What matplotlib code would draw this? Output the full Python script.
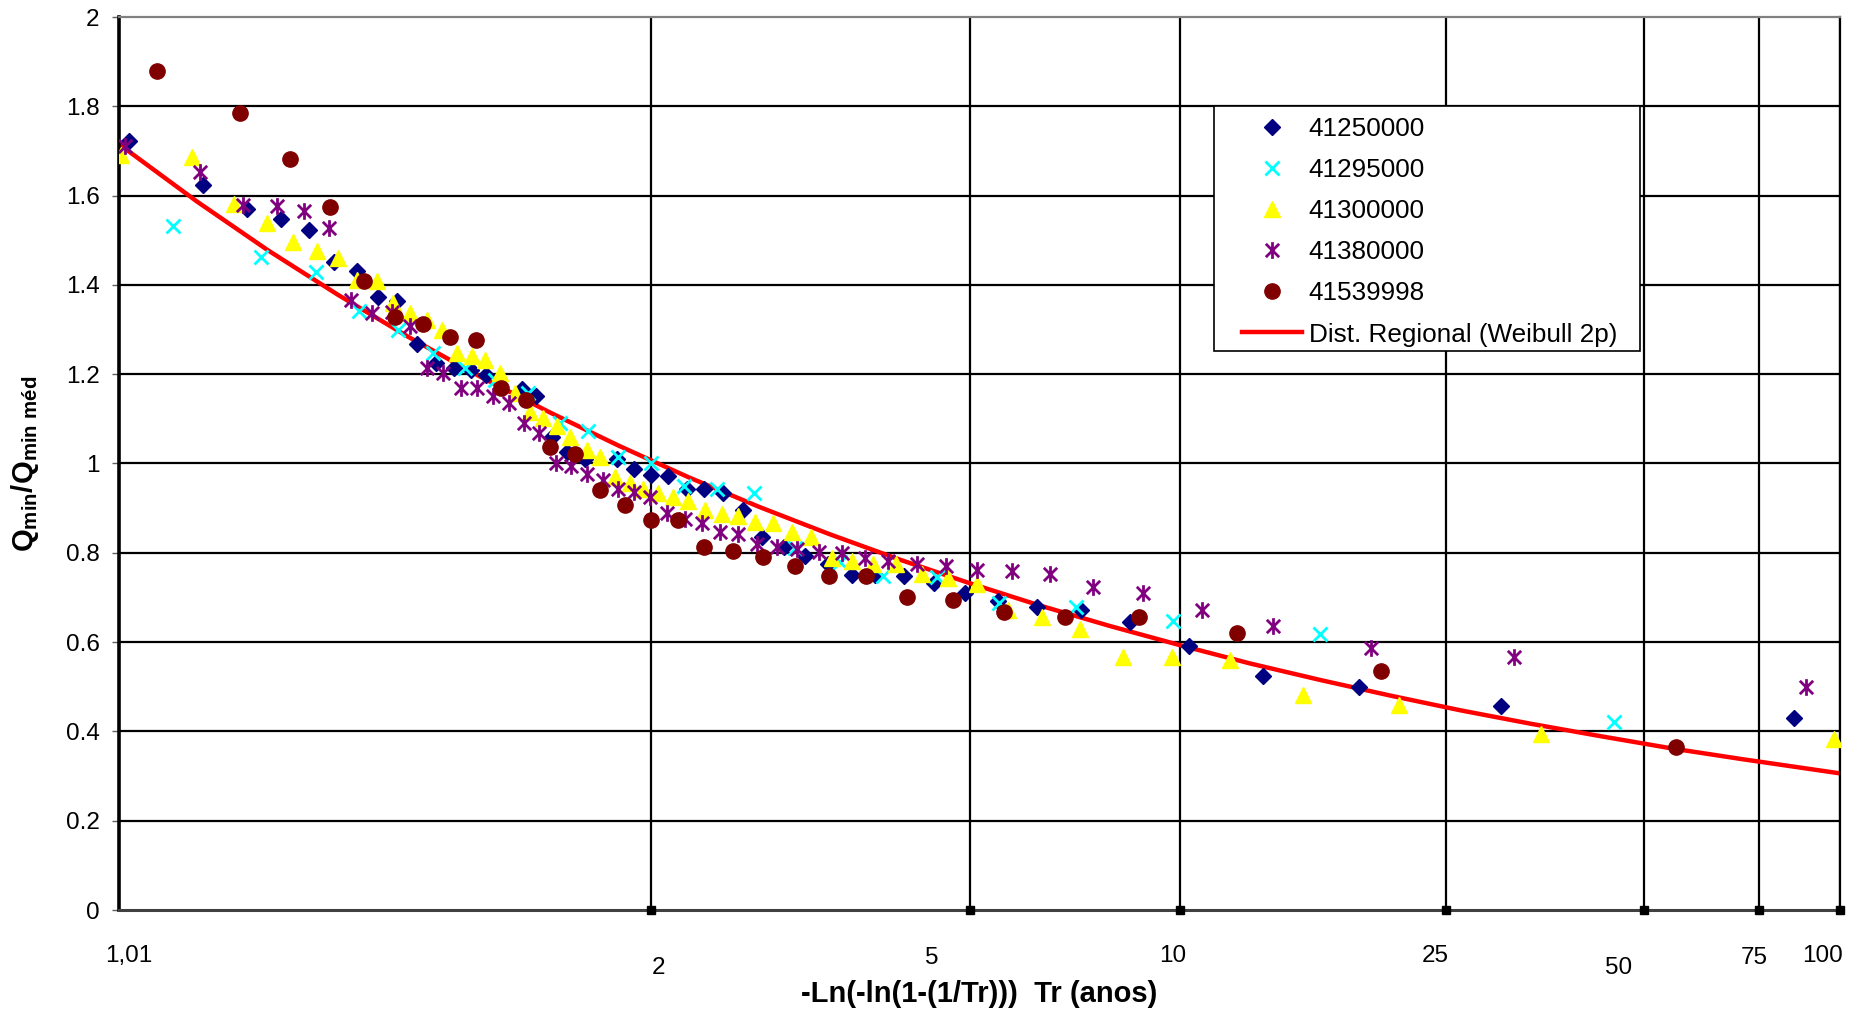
import numpy as np
import matplotlib
matplotlib.use('Agg')
import matplotlib.pyplot as plt
from matplotlib.patches import Rectangle
from matplotlib.path import Path

plt.rcParams['font.family'] = ['Liberation Sans', 'DejaVu Sans']
plt.rcParams['mathtext.fontset'] = 'custom'
plt.rcParams['mathtext.rm'] = 'Liberation Sans'
plt.rcParams['mathtext.bf'] = 'Liberation Sans:bold'

# x values are the reduced variate -Ln(-ln(1-1/Tr)), y values Qmin/Qmin med
u_41250000 = [-1.494, -1.229, -1.074, -0.951, -0.851, -0.763, -0.682, -0.606, -0.538, -0.467,
              -0.400, -0.336, -0.275, -0.222, -0.095, -0.045, 0.012, 0.068, 0.130, 0.243,
              0.305, 0.366, 0.427, 0.493, 0.554, 0.623, 0.692, 0.760, 0.839, 0.914,
              0.997, 1.080, 1.163, 1.267, 1.374, 1.484, 1.602, 1.741, 1.896, 2.072,
              2.283, 2.544, 2.888, 3.394, 4.435]
q_41250000 = [1.722, 1.623, 1.569, 1.547, 1.522, 1.451, 1.431, 1.373, 1.365, 1.267,
              1.226, 1.215, 1.209, 1.198, 1.166, 1.152, 1.059, 1.026, 1.011, 1.011,
              0.987, 0.974, 0.972, 0.944, 0.942, 0.933, 0.896, 0.836, 0.814, 0.793,
              0.776, 0.750, 0.750, 0.747, 0.733, 0.711, 0.691, 0.679, 0.672, 0.644,
              0.591, 0.524, 0.500, 0.457, 0.429]

u_41295000 = [-1.338, -1.023, -0.829, -0.673, -0.534, -0.410, -0.297, -0.190, -0.071, 0.041,
              0.142, 0.249, 0.366, 0.483, 0.602, 0.734, 0.878, 1.039, 1.191, 1.385,
              1.606, 1.879, 2.226, 2.748, 3.797]
q_41295000 = [1.533, 1.462, 1.429, 1.342, 1.300, 1.248, 1.213, 1.187, 1.159, 1.091,
              1.073, 1.015, 1.000, 0.950, 0.942, 0.935, 0.810, 0.780, 0.748, 0.745,
              0.687, 0.678, 0.648, 0.618, 0.420]

u_41300000 = [-1.522, -1.268, -1.120, -1.003, -0.910, -0.825, -0.748, -0.682, -0.611, -0.552,
              -0.493, -0.433, -0.380, -0.326, -0.273, -0.226, -0.172, -0.119, -0.065, -0.018,
              0.030, 0.077, 0.137, 0.184, 0.237, 0.291, 0.338, 0.392, 0.445, 0.498,
              0.558, 0.617, 0.676, 0.736, 0.799, 0.867, 0.934, 1.009, 1.080, 1.157,
              1.238, 1.329, 1.424, 1.525, 1.638, 1.757, 1.893, 2.045, 2.220, 2.427,
              2.688, 3.029, 3.534, 4.577]
q_41300000 = [1.690, 1.686, 1.582, 1.539, 1.496, 1.476, 1.461, 1.410, 1.409, 1.359,
              1.338, 1.321, 1.300, 1.247, 1.241, 1.232, 1.203, 1.157, 1.116, 1.101,
              1.083, 1.060, 1.030, 1.015, 0.970, 0.956, 0.944, 0.933, 0.924, 0.917,
              0.896, 0.887, 0.882, 0.870, 0.867, 0.847, 0.836, 0.788, 0.782, 0.776,
              0.776, 0.753, 0.743, 0.730, 0.672, 0.657, 0.629, 0.566, 0.566, 0.560,
              0.482, 0.459, 0.394, 0.382]

u_41380000 = [-1.508, -1.241, -1.086, -0.967, -0.869, -0.780, -0.704, -0.629, -0.558, -0.493,
              -0.433, -0.374, -0.312, -0.255, -0.198, -0.140, -0.087, -0.032, 0.027, 0.080,
              0.137, 0.194, 0.249, 0.306, 0.362, 0.424, 0.487, 0.546, 0.611, 0.676,
              0.742, 0.815, 0.887, 0.965, 1.045, 1.128, 1.211, 1.314, 1.416, 1.528,
              1.650, 1.787, 1.941, 2.119, 2.327, 2.582, 2.931, 3.439, 4.479]
q_41380000 = [1.710, 1.653, 1.579, 1.577, 1.565, 1.527, 1.367, 1.336, 1.340, 1.308,
              1.215, 1.203, 1.168, 1.168, 1.151, 1.135, 1.091, 1.069, 1.002, 0.994,
              0.976, 0.963, 0.942, 0.937, 0.926, 0.890, 0.875, 0.867, 0.847, 0.842,
              0.820, 0.814, 0.808, 0.802, 0.800, 0.788, 0.782, 0.776, 0.770, 0.761,
              0.760, 0.753, 0.724, 0.711, 0.673, 0.635, 0.586, 0.566, 0.499]

u_41539998 = [-1.394, -1.098, -0.919, -0.777, -0.655, -0.546, -0.445, -0.350, -0.258, -0.170,
              -0.080, 0.006, 0.095, 0.184, 0.273, 0.364, 0.460, 0.555, 0.656, 0.763,
              0.878, 1.001, 1.131, 1.276, 1.440, 1.623, 1.840, 2.105, 2.454, 2.967,
              4.015]
q_41539998 = [1.880, 1.786, 1.681, 1.574, 1.409, 1.327, 1.312, 1.283, 1.277, 1.168,
              1.142, 1.038, 1.021, 0.941, 0.907, 0.873, 0.873, 0.814, 0.805, 0.791,
              0.771, 0.748, 0.748, 0.702, 0.694, 0.668, 0.656, 0.656, 0.620, 0.536,
              0.364]

# regional Weibull 2p curve
u_regional = [-1.529, -1.25, -1.0, -0.75, -0.5, -0.25, 0.0, 0.25, 0.5, 0.75, 1.0, 1.25, 1.5,
              1.75, 2.0, 2.25, 2.5, 2.75, 3.0, 3.25, 3.5, 3.75, 4.0, 4.25, 4.6]
q_regional = [1.715, 1.586, 1.478, 1.378, 1.284, 1.197, 1.116, 1.040, 0.969, 0.903, 0.842,
              0.785, 0.732, 0.682, 0.636, 0.593, 0.552, 0.515, 0.480, 0.447, 0.417, 0.389,
              0.362, 0.338, 0.306]

tr_grid = [2, 5, 10, 25, 50, 75, 100]
tr_labels = ['1,01', '2', '5', '10', '25', '50', '75', '100']
# label positions (pixels in the 1867x1013 figure)
tr_label_pos = [(129, 956), (658, 968), (932, 958), (1173, 956), (1435, 956),
                (1619, 968), (1754, 958), (1822, 956)]


def reduced(tr):
    tr = np.asarray(tr, dtype=float)
    return -np.log(-np.log(1 - 1 / tr))


# Excel style asterisk: an x with a vertical bar
star = Path([(-1, -1), (1, 1), (-1, 1), (1, -1), (0, -1.25), (0, 1.25)],
            [Path.MOVETO, Path.LINETO, Path.MOVETO, Path.LINETO, Path.MOVETO, Path.LINETO])

W, H = 1867, 1013
fig = plt.figure(figsize=(W / 100, H / 100), dpi=100)
ax = fig.add_axes([119 / W, 1 - 910 / H, (1840 - 119) / W, (910 - 17) / H])

x_min, x_max = reduced(1.01), reduced(100)
ax.set_xlim(x_min, x_max)
ax.set_ylim(0, 2)

# grid
for y in np.arange(0.2, 2.0, 0.2):
    ax.axhline(y, color='black', lw=1.6, zorder=1)
for x in reduced(tr_grid):
    ax.axvline(x, color='black', lw=1.6, zorder=1)
ax.plot(reduced(tr_grid), np.zeros(len(tr_grid)), 's', color='black', ms=6,
        clip_on=False, zorder=6)

ax.plot(u_regional, q_regional, color='#FF0000', lw=3.2, zorder=2,
        label='Dist. Regional (Weibull 2p)')
ax.plot(u_41250000, q_41250000, 'D', color='#000080', ms=8.5, ls='none', zorder=3,
        label='41250000')
ax.plot(u_41295000, q_41295000, 'x', color='#00FFFF', ms=10.5, mew=2, ls='none', zorder=3,
        label='41295000')
ax.plot(u_41300000, q_41300000, '^', color='#FFFF00', ms=11.5, ls='none', zorder=3,
        label='41300000')
ax.plot(u_41380000, q_41380000, marker=star, color='#800080', ms=12, mew=2,
        ls='none', zorder=3, label='41380000')
ax.plot(u_41539998, q_41539998, 'o', color='#800000', ms=11, ls='none', zorder=3,
        label='41539998')

# axes styling
ax.spines['left'].set_linewidth(2.6)
ax.spines['left'].set_color('black')
ax.spines['bottom'].set_linewidth(2.2)
ax.spines['bottom'].set_color('#404040')
ax.spines['top'].set_linewidth(1.6)
ax.spines['top'].set_color('#808080')
ax.spines['right'].set_linewidth(1.6)
ax.spines['right'].set_color('black')

ax.set_xticks([])
ax.set_yticks(np.arange(0, 2.01, 0.2))
ax.set_yticklabels(['0', '0.2', '0.4', '0.6', '0.8', '1', '1.2', '1.4', '1.6', '1.8', '2'])
ax.tick_params(axis='y', direction='out', length=5, width=1, color='#606060',
               labelsize=17.5, pad=9)
ax.set_ylabel(r'$\mathbf{Q_{min}/Q_{min\ méd}}$', fontsize=21, labelpad=18)

for lab, (px, py) in zip(tr_labels, tr_label_pos):
    fig.text(px / W, 1 - py / H, lab, ha='center', va='center', fontsize=17.5)
fig.text(979 / W, 1 - 994 / H, '-Ln(-ln(1-(1/Tr)))  Tr (anos)', ha='center', va='center',
         fontsize=21, fontweight='bold')

# legend with a plain box behind it
ax.add_patch(Rectangle((0.636, 0.626), 0.248, 0.2747, transform=ax.transAxes,
                       facecolor='white', edgecolor='black', lw=1.2, zorder=7))
handles, labels = ax.get_legend_handles_labels()
order = [1, 2, 3, 4, 5, 0]
leg = ax.legend([handles[i] for i in order], [labels[i] for i in order],
                loc='upper left', bbox_to_anchor=(0.6525, 0.888), frameon=False,
                fontsize=18.8, handlelength=2.3, handletextpad=0.25, borderpad=0,
                borderaxespad=0, labelspacing=0.655)
leg.set_zorder(8)

fig.savefig('out.png', dpi=100)
